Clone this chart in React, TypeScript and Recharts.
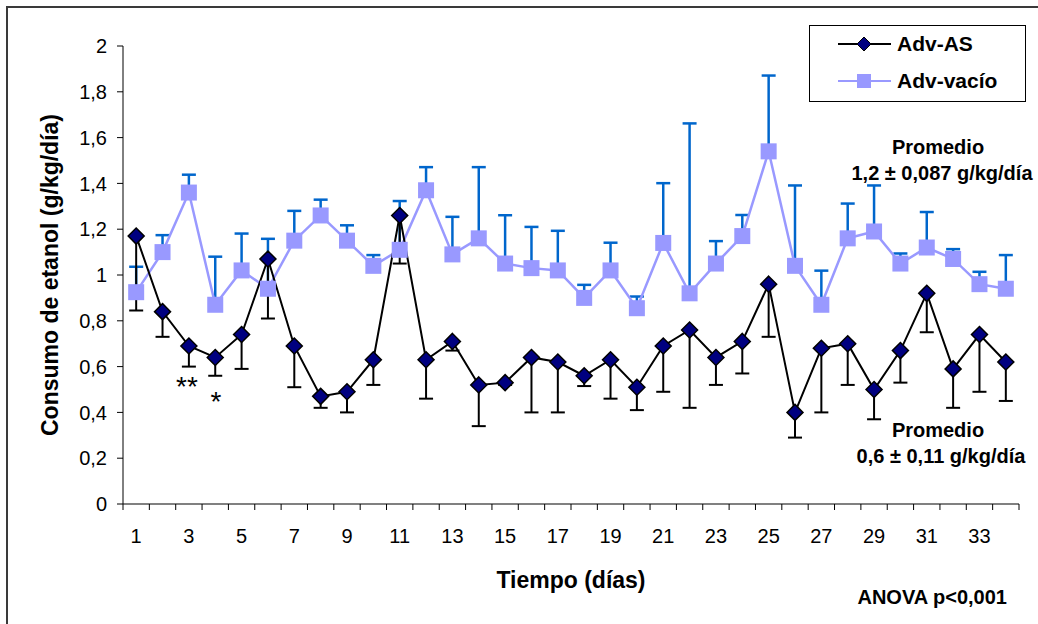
import { LineChart, Line, XAxis, YAxis, ErrorBar, Legend, Customized } from 'recharts'

const days = [1, 2, 3, 4, 5, 6, 7, 8, 9, 10, 11, 12, 13, 14, 15, 16, 17, 18, 19, 20, 21, 22, 23, 24, 25, 26, 27, 28, 29, 30, 31, 32, 33, 34]

// Adv-AS: mean and lower end of the error bar
const asMean = [1.17, 0.84, 0.69, 0.64, 0.74, 1.07, 0.69, 0.47, 0.49, 0.63, 1.26, 0.63, 0.71, 0.52, 0.53, 0.64, 0.62, 0.56, 0.63, 0.51, 0.69, 0.76, 0.64, 0.71, 0.96, 0.4, 0.68, 0.7, 0.5, 0.67, 0.92, 0.59, 0.74, 0.62]
const asLow = [0.845, 0.73, 0.6, 0.56, 0.59, 0.81, 0.51, 0.42, 0.4, 0.52, 1.05, 0.46, 0.67, 0.34, 0.52, 0.4, 0.4, 0.515, 0.46, 0.41, 0.49, 0.42, 0.52, 0.57, 0.73, 0.29, 0.4, 0.52, 0.37, 0.53, 0.75, 0.42, 0.49, 0.45]

// Adv-vacío: mean and upper end of the error bar
const vacMean = [0.925, 1.1, 1.36, 0.87, 1.02, 0.94, 1.15, 1.26, 1.15, 1.04, 1.11, 1.37, 1.09, 1.16, 1.05, 1.03, 1.02, 0.9, 1.02, 0.855, 1.14, 0.92, 1.05, 1.17, 1.54, 1.04, 0.87, 1.16, 1.19, 1.05, 1.12, 1.07, 0.96, 0.94]
const vacHigh = [1.036, 1.174, 1.438, 1.08, 1.181, 1.158, 1.28, 1.329, 1.217, 1.087, 1.323, 1.471, 1.254, 1.471, 1.261, 1.21, 1.193, 0.957, 1.141, 0.906, 1.401, 1.662, 1.148, 1.262, 1.871, 1.391, 1.019, 1.312, 1.391, 1.094, 1.275, 1.113, 1.014, 1.087]

const xLabels = [1, 3, 5, 7, 9, 11, 13, 15, 17, 19, 21, 23, 25, 27, 29, 31, 33]
const yTicks = [0, 0.2, 0.4, 0.6, 0.8, 1, 1.2, 1.4, 1.6, 1.8, 2]

const chartData = days.map((day, i) => ({
  day,
  as: asMean[i],
  asErr: [asMean[i] - asLow[i], 0],
  vac: vacMean[i],
  vacErr: [0, vacHigh[i] - vacMean[i]],
}))

// tick marks sit between days, labels on odd days
const xTicks: number[] = []
days.forEach(d => xTicks.push(d - 0.5, d))
xTicks.push(days[days.length - 1] + 0.5)

const FONT = '"Liberation Sans", Arial, sans-serif'

const XTick = (props: any) => {
  const { x, y, payload } = props
  const v = payload.value
  if (!Number.isInteger(v)) {
    return <line x1={x} y1={y} x2={x} y2={y + 6} stroke="#000" strokeWidth={1} />
  }
  if (!xLabels.includes(v)) return <g />
  return (
    <text x={x} y={y + 39} textAnchor="middle" fontSize={20} fill="#000">
      {v}
    </text>
  )
}

const Diamond = (props: any) => {
  const { cx, cy, index } = props
  if (cx == null || cy == null) return null
  return (
    <path
      key={`as-${index}`}
      d={`M${cx},${cy - 8} L${cx + 8},${cy} L${cx},${cy + 8} L${cx - 8},${cy} Z`}
      fill="#000080"
      stroke="#000"
      strokeWidth={1.5}
    />
  )
}

const Square = (props: any) => {
  const { cx, cy, index } = props
  if (cx == null || cy == null) return null
  return <rect key={`vac-${index}`} x={cx - 8} y={cy - 8} width={16} height={16} fill="#9999FF" />
}

const LegendBox = () => (
  <div
    style={{
      width: 217,
      height: 77,
      boxSizing: 'border-box',
      border: '1px solid #000',
      background: '#fff',
      fontFamily: FONT,
      fontWeight: 'bold',
      fontSize: 21,
      color: '#000',
      position: 'relative',
    }}
  >
    <svg width={60} height={77} style={{ position: 'absolute', left: 24, top: 0 }}>
      <line x1={4} y1={18} x2={57} y2={18} stroke="#000" strokeWidth={2} />
      <path d="M30,11 L37,18 L30,25 L23,18 Z" fill="#000080" stroke="#000" strokeWidth={1} />
      <line x1={4} y1={55} x2={57} y2={55} stroke="#9999FF" strokeWidth={2} />
      <rect x={23} y={48} width={14} height={14} fill="#9999FF" />
    </svg>
    <div style={{ position: 'absolute', left: 87, top: 6, lineHeight: '24px' }}>Adv-AS</div>
    <div style={{ position: 'absolute', left: 87, top: 43, lineHeight: '24px' }}>Adv-vacío</div>
  </div>
)

const Notes = () => (
  <g fontFamily={FONT} fill="#000">
    <text x={58} y={275} transform="rotate(-90 58 275)" textAnchor="middle" fontSize={23} fontWeight="bold">
      Consumo de etanol (g/kg/día)
    </text>
    <text x={571} y={588} textAnchor="middle" fontSize={23} fontWeight="bold">
      Tiempo (días)
    </text>
    <text x={1007} y={604} textAnchor="end" fontSize={20} fontWeight="bold">
      ANOVA p&lt;0,001
    </text>
    <text x={938} y={154} textAnchor="middle" fontSize={20} fontWeight="bold">Promedio</text>
    <text x={942} y={180} textAnchor="middle" fontSize={20} fontWeight="bold">1,2 ± 0,087 g/kg/día</text>
    <text x={938} y={437} textAnchor="middle" fontSize={20} fontWeight="bold">Promedio</text>
    <text x={941} y={463} textAnchor="middle" fontSize={20} fontWeight="bold">0,6 ± 0,11 g/kg/día</text>
    <text x={187} y={396} textAnchor="middle" fontSize={28}>**</text>
    <text x={216} y={411} textAnchor="middle" fontSize={28}>*</text>
  </g>
)

export default function App() {
  return (
    <div
      style={{
        position: 'absolute',
        left: 0,
        top: 0,
        width: 1038,
        height: 624,
        overflow: 'hidden',
        background: '#fff',
        fontFamily: FONT,
      }}
    >
      <div
        style={{
          position: 'absolute',
          left: 6,
          top: 6,
          width: 1100,
          height: 700,
          borderTop: '2px solid #3a3a3a',
          borderLeft: '2px solid #3a3a3a',
        }}
      />
      <LineChart
        width={1038}
        height={624}
        data={chartData}
        margin={{ top: 46, right: 19, bottom: 80, left: 63 }}
      >
        <XAxis
          dataKey="day"
          type="number"
          domain={[0.5, 34.5]}
          ticks={xTicks}
          interval={0}
          height={40}
          tickSize={0}
          tickMargin={0}
          tickLine={false}
          tick={<XTick />}
          axisLine={{ stroke: '#808080', strokeWidth: 2 }}
        />
        <YAxis
          domain={[0, 2]}
          ticks={yTicks}
          interval={0}
          width={60}
          tickSize={6}
          tickMargin={10}
          tickFormatter={(v: number) => String(v).replace('.', ',')}
          tick={{ fontSize: 20, fill: '#000' }}
          axisLine={{ stroke: '#000' }}
          tickLine={{ stroke: '#000' }}
        />
        <Legend
          layout="vertical"
          align="center"
          verticalAlign="middle"
          content={() => <LegendBox />}
          wrapperStyle={{ position: 'absolute', left: 809, top: 25, width: 217, height: 77 }}
        />
        <Line
          dataKey="vac"
          name="Adv-vacío"
          type="linear"
          stroke="#9999FF"
          strokeWidth={2.5}
          dot={<Square />}
          activeDot={false}
          isAnimationActive={false}
        >
          <ErrorBar dataKey="vacErr" direction="y" width={7} stroke="#0066CC" strokeWidth={2.5} />
        </Line>
        <Line
          dataKey="as"
          name="Adv-AS"
          type="linear"
          stroke="#000"
          strokeWidth={2}
          dot={<Diamond />}
          activeDot={false}
          isAnimationActive={false}
        >
          <ErrorBar dataKey="asErr" direction="y" width={7} stroke="#000" strokeWidth={2} />
        </Line>
        <Customized component={<Notes />} />
      </LineChart>
    </div>
  )
}
